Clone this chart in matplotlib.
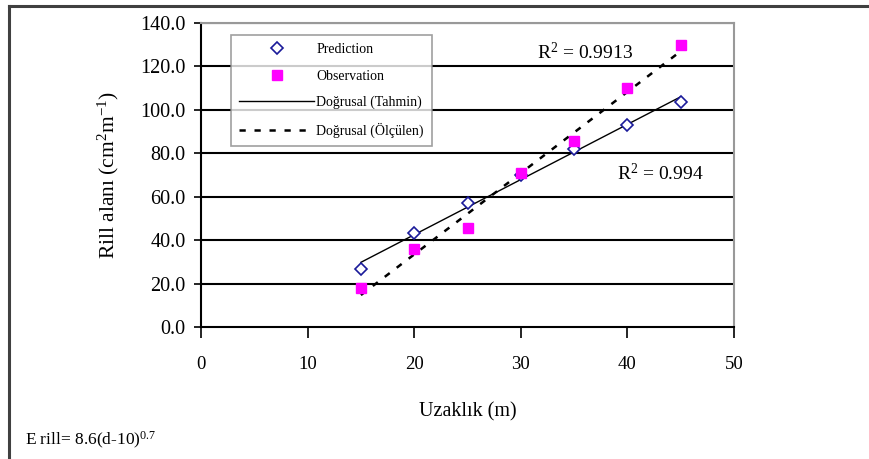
import matplotlib
matplotlib.use("Agg")
import matplotlib.pyplot as plt
import numpy as np
from matplotlib.lines import Line2D

plt.rcParams['font.family'] = ['Liberation Serif', 'DejaVu Serif']
plt.rcParams['mathtext.fontset'] = 'custom'
plt.rcParams['mathtext.rm'] = 'Liberation Serif'
plt.rcParams['mathtext.it'] = 'Liberation Serif:italic'

# Data
distance = [15, 20, 25, 30, 35, 40, 45]
prediction = [26.5, 43.1, 57.2, 70.0, 81.9, 93.0, 103.6]
observation = [18.0, 36.0, 45.5, 71.0, 85.5, 110.0, 130.0]
r2_pred_label = "R$^2$ = 0.994"
r2_obs_label = "R$^2$ = 0.9913"
yticks = [0, 20, 40, 60, 80, 100, 120, 140]
xticks = [0, 10, 20, 30, 40, 50]
legend_labels = ["Prediction", "Observation", "Doğrusal (Tahmin)", "Doğrusal (Ölçülen)"]

W, H = 869, 459
fig = plt.figure(figsize=(W / 100, H / 100), dpi=100)
fig.patch.set_facecolor('white')

ax = fig.add_axes([201 / W, 1 - 327 / H, (734 - 201) / W, (327 - 23) / H])
ax.set_xlim(0, 50)
ax.set_ylim(0, 140)

# gridlines
for v in yticks[1:]:
    ax.axhline(v, color='black', lw=1.5, zorder=1)

# trend lines
x = np.array(distance, dtype=float)
xs = np.array([min(distance), max(distance)], dtype=float)
pp = np.polyfit(x, prediction, 1)
po = np.polyfit(x, observation, 1)
ln_pred, = ax.plot(xs, np.polyval(pp, xs), color='black', lw=1.0, zorder=3)
ln_obs, = ax.plot(xs, np.polyval(po, xs), color='black', lw=1.8,
                  dashes=(2.5, 3.5), zorder=3)

# markers
mk_pred, = ax.plot(distance, prediction, linestyle='none', marker='D', ms=6,
                   mfc='white', mec='#1a1a9a', mew=1.2, zorder=4)
mk_obs, = ax.plot(distance, observation, linestyle='none', marker='s', ms=7,
                  mfc='#ff00ff', mec='#ff00ff', zorder=4)

ax.set_yticks(yticks)
ax.set_yticklabels([f"{v:.1f}" for v in yticks])
ax.set_xticks(xticks)
ax.set_xticklabels([str(v) for v in xticks])
ax.tick_params(axis='y', direction='out', length=5, width=1.2, labelsize=14.5, pad=6)
ax.tick_params(axis='x', direction='out', length=8, width=1.2, labelsize=13.5, pad=13)

for s in ['left', 'bottom']:
    ax.spines[s].set_color('black')
    ax.spines[s].set_linewidth(1.5)
for s in ['top', 'right']:
    ax.spines[s].set_color('#999999')
    ax.spines[s].set_linewidth(1.5)

ax.set_ylabel("Rill alanı (cm$^2$m$^{-1}$)", fontsize=15.5, labelpad=14)
ax.set_xlabel("Uzaklık (m)", fontsize=14.5, labelpad=21)

ax.text(36.0, 126.5, r2_obs_label, fontsize=14, ha='center', va='center')
ax.text(43.06, 70.9, r2_pred_label, fontsize=14, ha='center', va='center')

leg = ax.legend([mk_pred, mk_obs, ln_pred, ln_obs], legend_labels,
                loc='upper left', bbox_to_anchor=(30 / 533, 1 - 12 / 304),
                fontsize=10, frameon=True, fancybox=False, handlelength=5.4,
                handletextpad=0.15, borderpad=0.6, labelspacing=0.95,
                borderaxespad=0)
leg.get_frame().set_edgecolor('#888888')
leg.get_frame().set_linewidth(1.2)

fig.text(25 / W, 1 - 440 / H, "E rill= 8.6(d-10)$^{0.7}$", fontsize=12.5,
         ha='left', va='center')

# outer border (left and top only, figure is cropped)
fig.add_artist(Line2D([9 / W, 9 / W], [0, 1 - 6 / H], transform=fig.transFigure,
                      color='#404040', lw=2.2))
fig.add_artist(Line2D([9 / W, 1], [1 - 6 / H, 1 - 6 / H], transform=fig.transFigure,
                      color='#404040', lw=2.2))

fig.savefig("out.png", dpi=100)
